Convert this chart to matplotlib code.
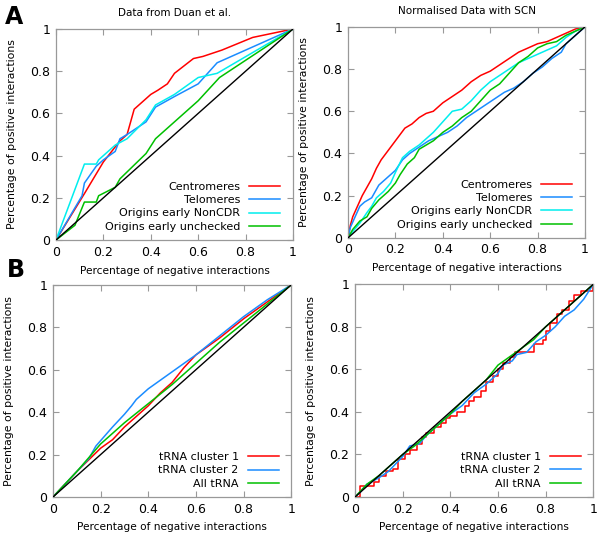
import matplotlib
matplotlib.use('Agg')
import matplotlib.pyplot as plt

# --- A: data from Duan et al. ---
duan_cen_x = [0, 0.12, 0.2, 0.27, 0.3, 0.33, 0.36, 0.4, 0.43, 0.47, 0.5, 0.58, 0.62, 0.7, 0.83, 1]
duan_cen_y = [0, 0.22, 0.37, 0.47, 0.5, 0.62, 0.65, 0.69, 0.71, 0.74, 0.79, 0.86, 0.87, 0.9, 0.96, 1]
duan_tel_x = [0, 0.11, 0.12, 0.17, 0.2, 0.25, 0.27, 0.3, 0.38, 0.42, 0.5, 0.6, 0.68, 1]
duan_tel_y = [0, 0.21, 0.27, 0.35, 0.38, 0.42, 0.48, 0.5, 0.56, 0.63, 0.68, 0.74, 0.84, 1]
duan_ncdr_x = [0, 0.12, 0.17, 0.18, 0.25, 0.3, 0.38, 0.42, 0.5, 0.6, 0.68, 1]
duan_ncdr_y = [0, 0.36, 0.36, 0.38, 0.45, 0.48, 0.57, 0.64, 0.69, 0.77, 0.79, 1]
duan_unch_x = [0, 0.08, 0.12, 0.17, 0.18, 0.25, 0.27, 0.38, 0.42, 0.6, 0.69, 1]
duan_unch_y = [0, 0.07, 0.18, 0.18, 0.21, 0.25, 0.29, 0.41, 0.48, 0.66, 0.77, 1]

# --- A: normalised with SCN ---
scn_cen_x = [0, 0.01, 0.02, 0.04, 0.06, 0.08, 0.1, 0.12, 0.14, 0.16, 0.18, 0.2, 0.22, 0.24, 0.27, 0.3,
             0.33, 0.36, 0.4, 0.44, 0.48, 0.52, 0.56, 0.6, 0.64, 0.68, 0.72, 0.76, 0.8, 0.84, 0.88, 0.92, 0.96, 1]
scn_cen_y = [0, 0.06, 0.1, 0.15, 0.2, 0.24, 0.28, 0.33, 0.37, 0.4, 0.43, 0.46, 0.49, 0.52, 0.54, 0.57,
             0.59, 0.6, 0.64, 0.67, 0.7, 0.74, 0.77, 0.79, 0.82, 0.85, 0.88, 0.9, 0.92, 0.93, 0.95, 0.97, 0.99, 1]
scn_tel_x = [0, 0.01, 0.03, 0.05, 0.07, 0.1, 0.13, 0.16, 0.2, 0.23, 0.26, 0.3, 0.34, 0.38, 0.42, 0.46,
             0.5, 0.54, 0.58, 0.62, 0.66, 0.7, 0.74, 0.78, 0.82, 0.86, 0.9, 0.92, 0.95, 1]
scn_tel_y = [0, 0.05, 0.1, 0.15, 0.17, 0.19, 0.25, 0.28, 0.32, 0.37, 0.4, 0.43, 0.46, 0.48, 0.5, 0.53,
             0.57, 0.6, 0.63, 0.66, 0.69, 0.71, 0.74, 0.78, 0.81, 0.85, 0.88, 0.92, 0.95, 1]
scn_ncdr_x = [0, 0.02, 0.05, 0.08, 0.1, 0.12, 0.15, 0.18, 0.2, 0.23, 0.26, 0.3, 0.33, 0.36, 0.4, 0.44,
              0.48, 0.52, 0.56, 0.6, 0.64, 0.68, 0.72, 0.76, 0.8, 0.84, 0.88, 0.92, 0.96, 1]
scn_ncdr_y = [0, 0.03, 0.07, 0.12, 0.15, 0.19, 0.22, 0.26, 0.31, 0.38, 0.41, 0.44, 0.47, 0.5, 0.55, 0.6,
              0.61, 0.65, 0.7, 0.74, 0.77, 0.8, 0.83, 0.85, 0.87, 0.89, 0.91, 0.95, 0.98, 1]
scn_unch_x = [0, 0.02, 0.05, 0.08, 0.1, 0.13, 0.17, 0.2, 0.22, 0.25, 0.28, 0.3, 0.33, 0.36, 0.4, 0.44,
              0.48, 0.52, 0.56, 0.6, 0.64, 0.68, 0.72, 0.76, 0.8, 0.84, 0.88, 0.92, 0.96, 1]
scn_unch_y = [0, 0.04, 0.08, 0.1, 0.14, 0.18, 0.22, 0.26, 0.3, 0.35, 0.38, 0.42, 0.44, 0.46, 0.5, 0.53,
              0.57, 0.6, 0.65, 0.7, 0.73, 0.78, 0.83, 0.86, 0.9, 0.92, 0.93, 0.96, 0.98, 1]

# --- B: tRNA, Duan ---
tr_c1_x = [0, 0.1, 0.2, 0.25, 0.3, 0.35, 0.4, 0.45, 0.5, 0.55, 0.6, 0.7, 0.8, 0.9, 1]
tr_c1_y = [0, 0.12, 0.23, 0.27, 0.33, 0.38, 0.43, 0.49, 0.54, 0.61, 0.67, 0.75, 0.84, 0.92, 1]
tr_c2_x = [0, 0.1, 0.15, 0.18, 0.25, 0.3, 0.33, 0.35, 0.4, 0.5, 0.6, 0.7, 0.8, 0.9, 1]
tr_c2_y = [0, 0.12, 0.18, 0.24, 0.33, 0.39, 0.43, 0.46, 0.51, 0.59, 0.67, 0.76, 0.85, 0.93, 1]
tr_all_x = [0, 0.1, 0.2, 0.3, 0.4, 0.5, 0.6, 0.7, 0.8, 0.9, 1]
tr_all_y = [0, 0.12, 0.25, 0.35, 0.44, 0.53, 0.63, 0.73, 0.82, 0.91, 1]

# --- B: tRNA, SCN ---
trs_c1_x = [0, 0.02, 0.02, 0.06, 0.08, 0.1, 0.1, 0.13, 0.16, 0.18, 0.21, 0.23, 0.26, 0.28, 0.3, 0.33,
            0.36, 0.38, 0.4, 0.43, 0.46, 0.48, 0.5, 0.53, 0.55, 0.58, 0.6, 0.62, 0.65, 0.67, 0.72, 0.75,
            0.79, 0.8, 0.82, 0.85, 0.87, 0.9, 0.92, 0.95, 0.97, 1]
trs_c1_y = [0, 0.02, 0.05, 0.05, 0.07, 0.07, 0.1, 0.12, 0.13, 0.18, 0.2, 0.22, 0.25, 0.28, 0.3, 0.33,
            0.35, 0.37, 0.38, 0.4, 0.43, 0.45, 0.47, 0.5, 0.54, 0.57, 0.6, 0.63, 0.66, 0.68, 0.68, 0.72,
            0.74, 0.78, 0.82, 0.86, 0.88, 0.92, 0.95, 0.97, 0.97, 1]
trs_c2_x = [0, 0.02, 0.05, 0.1, 0.14, 0.2, 0.23, 0.27, 0.3, 0.35, 0.4, 0.45, 0.5, 0.55, 0.6, 0.62,
            0.66, 0.68, 0.72, 0.76, 0.8, 0.84, 0.88, 0.92, 0.96, 1]
trs_c2_y = [0, 0.02, 0.06, 0.09, 0.12, 0.19, 0.24, 0.25, 0.29, 0.34, 0.39, 0.43, 0.49, 0.53, 0.58, 0.62,
            0.64, 0.67, 0.68, 0.73, 0.76, 0.8, 0.85, 0.88, 0.93, 1]
trs_all_x = [0, 0.05, 0.1, 0.15, 0.2, 0.25, 0.3, 0.35, 0.4, 0.45, 0.5, 0.55, 0.6, 0.65, 0.7, 0.75,
             0.8, 0.85, 0.9, 0.95, 1]
trs_all_y = [0, 0.06, 0.1, 0.15, 0.2, 0.24, 0.29, 0.34, 0.39, 0.45, 0.5, 0.55, 0.62, 0.66, 0.7, 0.74,
             0.8, 0.85, 0.9, 0.95, 1]

labels_a = ['Centromeres', 'Telomeres', 'Origins early NonCDR', 'Origins early unchecked']
colors_a = ['#ff0000', '#1a8cff', '#00eeee', '#00c000']
labels_b = ['tRNA cluster 1', 'tRNA cluster 2', 'All tRNA']
colors_b = ['#ff0000', '#1a8cff', '#00c000']

fig = plt.figure(figsize=(6, 5.37), dpi=100)
boxes = [[0.0933, 0.553, 0.395, 0.393], [0.58, 0.557, 0.395, 0.393],
         [0.0883, 0.0745, 0.397, 0.395], [0.5917, 0.0745, 0.397, 0.396]]
axs = [fig.add_axes(b) for b in boxes]


def style(ax):
    ax.set_xlim(0, 1)
    ax.set_ylim(0, 1)
    ax.set_xticks([0, 0.2, 0.4, 0.6, 0.8, 1])
    ax.set_yticks([0, 0.2, 0.4, 0.6, 0.8, 1])
    ax.set_xticklabels(['0', '0.2', '0.4', '0.6', '0.8', '1'])
    ax.set_yticklabels(['0', '0.2', '0.4', '0.6', '0.8', '1'])
    ax.tick_params(direction='in', top=True, right=True, length=4, color='#999999', labelsize=9, pad=4)
    for s in ax.spines.values():
        s.set_color('#999999')
        s.set_linewidth(0.9)
    ax.set_xlabel('Percentage of negative interactions', fontsize=7.6, labelpad=5)
    ax.set_ylabel('Percentage of positive interactions', fontsize=7.8, labelpad=10)
    ax.plot([0, 1], [0, 1], color='black', lw=1.0, zorder=5)


ax = axs[0]
for xs, ys, c, lab in zip([duan_cen_x, duan_tel_x, duan_ncdr_x, duan_unch_x],
                          [duan_cen_y, duan_tel_y, duan_ncdr_y, duan_unch_y], colors_a, labels_a):
    ax.plot(xs, ys, color=c, lw=1.1, label=lab)
style(ax)
ax.set_title('Data from Duan et al.', fontsize=7.5, pad=9)

ax = axs[1]
for xs, ys, c, lab in zip([scn_cen_x, scn_tel_x, scn_ncdr_x, scn_unch_x],
                          [scn_cen_y, scn_tel_y, scn_ncdr_y, scn_unch_y], colors_a, labels_a):
    ax.plot(xs, ys, color=c, lw=1.1, label=lab)
style(ax)
ax.set_title('Normalised Data with SCN', fontsize=7.5, pad=9)

ax = axs[2]
for xs, ys, c, lab in zip([tr_c1_x, tr_c2_x, tr_all_x], [tr_c1_y, tr_c2_y, tr_all_y], colors_b, labels_b):
    ax.plot(xs, ys, color=c, lw=1.1, label=lab)
style(ax)

ax = axs[3]
ax.plot(trs_c1_x, trs_c1_y, color=colors_b[0], lw=1.1, label=labels_b[0], drawstyle='steps-post')
ax.plot(trs_c2_x, trs_c2_y, color=colors_b[1], lw=1.1, label=labels_b[1])
ax.plot(trs_all_x, trs_all_y, color=colors_b[2], lw=1.1, label=labels_b[2])
style(ax)

for ax in axs:
    ax.legend(loc='lower right', bbox_to_anchor=(0.966, 0.018), frameon=False, markerfirst=False,
              fontsize=8, handlelength=2.8, handletextpad=0.8, labelspacing=0.3, borderaxespad=0.0)
    for t in ax.get_legend().get_texts():
        t.set_ha('right')

fig.text(0.024, 0.968, 'A', fontsize=17, fontweight='bold', ha='center', va='center')
fig.text(0.027, 0.497, 'B', fontsize=17, fontweight='bold', ha='center', va='center')

fig.savefig('out.png', dpi=100)
